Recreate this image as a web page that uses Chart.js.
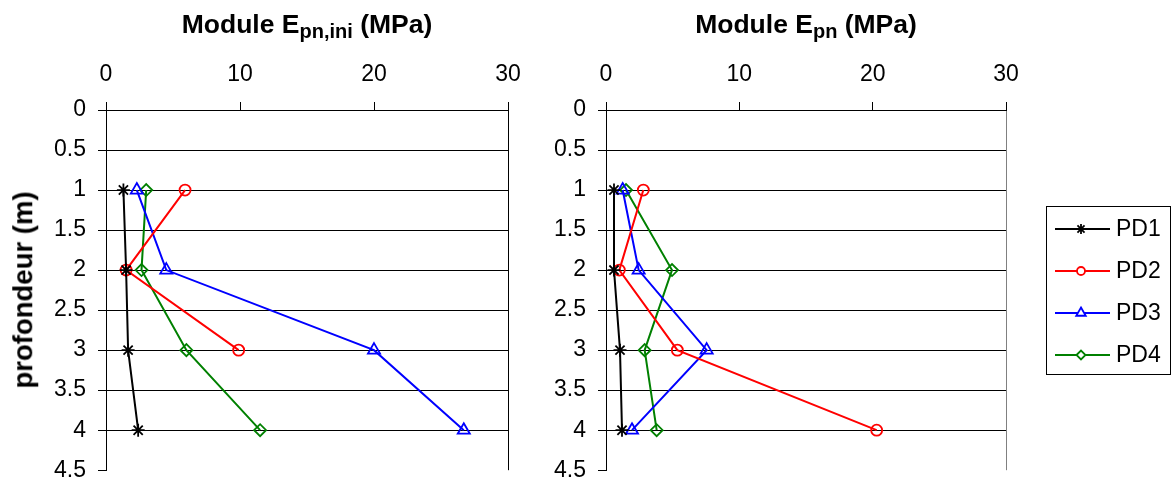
<!DOCTYPE html>
<html><head><meta charset="utf-8">
<script src="https://cdn.jsdelivr.net/npm/chart.js@4/dist/chart.umd.min.js"></script>
<style>
body{margin:0;width:1171px;height:483px;background:#fff;position:relative;overflow:hidden;font-family:"Liberation Sans",Arial,sans-serif;color:#000;}
.box{position:absolute;top:0;}
#b1{left:0;width:540px;height:483px;}
#b2{left:540px;width:631px;height:483px;}
.title{position:absolute;font-weight:bold;font-size:26.5px;white-space:nowrap;transform:translate(-50%,-50%);line-height:1;}
.title sub{font-size:20px;vertical-align:-0.28em;line-height:0;}
#ytitle{position:absolute;left:23px;top:290px;font-weight:bold;font-size:27.5px;white-space:nowrap;transform:translate(-50%,-50%) rotate(-90deg);line-height:1;}
</style></head>
<body>
<div class="box" id="b1"><canvas id="c1"></canvas></div>
<div class="box" id="b2"><canvas id="c2"></canvas></div>
<div class="title" style="left:307px;top:24px">Module E<sub>pn,ini</sub> (MPa)</div>
<div class="title" style="left:806px;top:24px">Module E<sub>pn</sub> (MPa)</div>
<div id="ytitle">profondeur (m)</div>
<script>
// ---- data ----
const depths = [1, 2, 3, 4];
const seriesNames = ['PD1', 'PD2', 'PD3', 'PD4'];
const ini_PD1 = [1.3, 1.5, 1.65, 2.4];
const ini_PD2 = [5.9, 1.5, 9.9, null];
const ini_PD3 = [2.3, 4.5, 20.0, 26.7];
const ini_PD4 = [3.0, 2.65, 6.0, 11.5];
const epn_PD1 = [0.6, 0.6, 1.05, 1.2];
const epn_PD2 = [2.8, 1.0, 5.35, 20.3];
const epn_PD3 = [1.25, 2.45, 7.55, 1.95];
const epn_PD4 = [1.5, 4.95, 2.9, 3.8];
const xTicks = [0, 10, 20, 30];
const yTicks = [0, 0.5, 1, 1.5, 2, 2.5, 3, 3.5, 4, 4.5];

// ---- styles ----
const colors = ['#000000', '#ff0000', '#0000ff', '#008000'];
const pStyles = ['star', 'circle', 'triangle', 'rectRot'];
const pRadius = [6.5, 5.5, 7, 6];
const FONT = '"Liberation Sans", Arial, sans-serif';
const TICK_SIZE = 23;

function makeDatasets(arrs) {
  return arrs.map((arr, i) => ({
    label: seriesNames[i],
    data: depths.map((d, k) => ({x: arr[k], y: d})).filter(p => p.x !== null),
    borderColor: colors[i],
    backgroundColor: 'rgba(0,0,0,0)',
    pointBackgroundColor: 'rgba(0,0,0,0)',
    pointBorderColor: colors[i],
    pointStyle: pStyles[i],
    pointRadius: pRadius[i],
    pointBorderWidth: 1.8,
    borderWidth: 2,
    tension: 0,
    fill: false,
    clip: false
  }));
}

function makeOptions(yWidth, padRight, rightBorderColor) {
  const o = {
    responsive: true,
    maintainAspectRatio: false,
    animation: false,
    events: [],
    layout: {padding: {left: 0, top: 0, right: padRight, bottom: 0}},
    plugins: {legend: {display: false}, tooltip: {enabled: false}},
    scales: {
      x: {
        type: 'linear', position: 'top', min: 0, max: 30,
        afterBuildTicks: s => { s.ticks = xTicks.map(v => ({value: v})); },
        afterFit: s => { s.height = o._xh; },
        grid: {
          color: c => (c.tick && c.tick.value === 30) ? rightBorderColor : 'rgba(0,0,0,0)',
          tickColor: '#000', tickLength: 8, lineWidth: 1, drawOnChartArea: true
        },
        border: {color: '#000', width: 1},
        ticks: {font: {family: FONT, size: TICK_SIZE}, color: '#000', padding: 14, maxRotation: 0,
                callback: v => String(v)}
      },
      y: {
        type: 'linear', reverse: true, min: 0, max: 4.5,
        afterBuildTicks: s => { s.ticks = yTicks.map(v => ({value: v})); },
        afterFit: s => { s.width = yWidth; },
        grid: {
          color: c => (c.tick && c.tick.value === 4.5) ? 'rgba(0,0,0,0)' : '#000',
          tickColor: '#000', tickLength: 8, lineWidth: 1
        },
        border: {color: '#000', width: 1},
        ticks: {font: {family: FONT, size: TICK_SIZE}, color: '#000', padding: 12,
                callback: v => String(v)}
      }
    }
  };
  o._xh = 110;
  return o;
}

const legendPlugin = {
  id: 'boxLegend',
  afterDraw(chart) {
    const ctx = chart.ctx;
    const bx = 506, by = 206, bw = 124, bh = 168;
    ctx.save();
    ctx.strokeStyle = '#000';
    ctx.lineWidth = 1;
    ctx.strokeRect(bx + 0.5, by + 0.5, bw, bh);
    const rows = [229, 271, 313, 355];
    chart.data.datasets.forEach((ds, i) => {
      const y = rows[i];
      ctx.strokeStyle = ds.borderColor;
      ctx.lineWidth = 2;
      ctx.beginPath();
      ctx.moveTo(515, y); ctx.lineTo(570, y);
      ctx.stroke();
      ctx.fillStyle = '#ffffff';
      ctx.strokeStyle = ds.borderColor;
      ctx.lineWidth = 1.8;
      Chart.helpers.drawPoint(ctx, {
        pointStyle: ds.pointStyle, radius: ds.pointRadius - 1.5, rotation: 0,
        borderWidth: 1.8
      }, 541, y);
      ctx.fillStyle = '#000';
      ctx.font = TICK_SIZE + 'px ' + FONT;
      ctx.textBaseline = 'middle';
      ctx.textAlign = 'left';
      ctx.fillText(ds.label, 576, y + 1);
    });
    ctx.restore();
  }
};

// place the plot area at y 110..470 by adjusting the top-axis height and the box height
function fitArea(chart, box, top, bottom) {
  for (let k = 0; k < 4; k++) {
    const a = chart.chartArea;
    const dt = top - a.top, db = bottom - a.bottom;
    if (Math.abs(dt) < 0.5 && Math.abs(db) < 0.5) break;
    chart.options._xh += dt;
    box.style.height = (box.offsetHeight + Math.round(db - dt)) + 'px';
    chart.resize();
    chart.update('none');
  }
}

const ch1 = new Chart(document.getElementById('c1'), {
  type: 'line',
  data: {datasets: makeDatasets([ini_PD1, ini_PD2, ini_PD3, ini_PD4])},
  options: makeOptions(106, 32, '#000')
});
fitArea(ch1, document.getElementById('b1'), 110, 470);

const ch2 = new Chart(document.getElementById('c2'), {
  type: 'line',
  data: {datasets: makeDatasets([epn_PD1, epn_PD2, epn_PD3, epn_PD4])},
  options: makeOptions(66, 165, '#808080'),
  plugins: [legendPlugin]
});
fitArea(ch2, document.getElementById('b2'), 110, 470);
</script>
</body></html>
